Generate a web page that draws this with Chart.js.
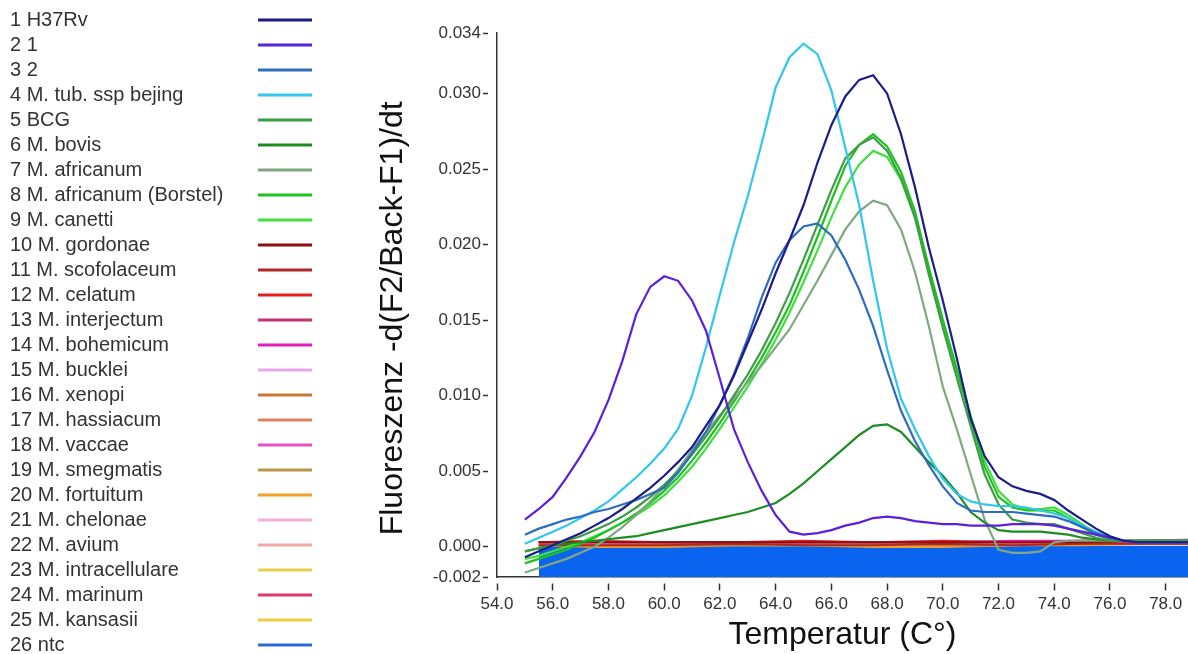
<!DOCTYPE html>
<html lang="de">
<head>
    <meta charset="UTF-8">
    <title>Schmelzkurven</title>
    <style>
        body { margin: 0; background: #fff; }
        canvas { display: block; }
    </style>
</head>
<body>
    <canvas id="meltChart" width="1188" height="654"></canvas>

    <script src="https://cdn.jsdelivr.net/npm/chart.js"></script>
    <script>
// temperature steps of the melting curves
const temps = [55.0, 55.5, 56.0, 56.5, 57.0, 57.5, 58.0, 58.5, 59.0, 59.5, 60.0, 60.5, 61.0, 61.5, 62.0, 62.5, 63.0, 63.5, 64.0, 64.5, 65.0, 65.5, 66.0, 66.5, 67.0, 67.5, 68.0, 68.5, 69.0, 69.5, 70.0, 70.5, 71.0, 71.5, 72.0, 72.5, 73.0, 73.5, 74.0, 74.5, 75.0, 75.5, 76.0, 76.5, 77.0, 77.5, 78.0, 78.5, 79.0];

const h37rv = [-0.0007, -0.0003, 0.0001, 0.0005, 0.0009, 0.0014, 0.0019, 0.0025, 0.0032, 0.0039, 0.0047, 0.0056, 0.0066, 0.0080, 0.0094, 0.0113, 0.0135, 0.0157, 0.0181, 0.0203, 0.0226, 0.0254, 0.0279, 0.0298, 0.0309, 0.0312, 0.0300, 0.0273, 0.0238, 0.0198, 0.0163, 0.0125, 0.0085, 0.0060, 0.0046, 0.0040, 0.0037, 0.0035, 0.0031, 0.0024, 0.0018, 0.0012, 0.0007, 0.0004, 0.0003, 0.0003, 0.0003, 0.0003, 0.0003];
const strain1 = [0.0018, 0.0025, 0.0033, 0.0046, 0.0060, 0.0076, 0.0097, 0.0123, 0.0154, 0.0172, 0.0179, 0.0176, 0.0163, 0.0143, 0.0111, 0.0078, 0.0056, 0.0037, 0.0021, 0.0010, 0.0008, 0.0009, 0.0011, 0.0014, 0.0016, 0.0019, 0.0020, 0.0019, 0.0017, 0.0016, 0.0015, 0.0015, 0.0014, 0.0014, 0.0014, 0.0015, 0.0015, 0.0015, 0.0014, 0.0012, 0.0010, 0.0008, 0.0006, 0.0004, 0.0003, 0.0003, 0.0003, 0.0003, 0.0003];
const strain2 = [0.0008, 0.0012, 0.0015, 0.0018, 0.0020, 0.0023, 0.0025, 0.0028, 0.0031, 0.0035, 0.0039, 0.0049, 0.0062, 0.0076, 0.0094, 0.0114, 0.0138, 0.0165, 0.0188, 0.0203, 0.0212, 0.0214, 0.0206, 0.0190, 0.0170, 0.0146, 0.0117, 0.0090, 0.0070, 0.0054, 0.0040, 0.0029, 0.0024, 0.0023, 0.0023, 0.0023, 0.0022, 0.0021, 0.0020, 0.0017, 0.0013, 0.0009, 0.0006, 0.0004, 0.0003, 0.0003, 0.0003, 0.0003, 0.0003];
const bejing = [0.0002, 0.0006, 0.0010, 0.0014, 0.0019, 0.0024, 0.0030, 0.0038, 0.0046, 0.0055, 0.0065, 0.0078, 0.0100, 0.0132, 0.0167, 0.0201, 0.0232, 0.0267, 0.0304, 0.0324, 0.0333, 0.0326, 0.0302, 0.0264, 0.0226, 0.0176, 0.0131, 0.0098, 0.0078, 0.0060, 0.0045, 0.0035, 0.0030, 0.0028, 0.0027, 0.0027, 0.0026, 0.0024, 0.0022, 0.0019, 0.0014, 0.0010, 0.0006, 0.0004, 0.0003, 0.0003, 0.0003, 0.0003, 0.0003];
const bcg = [-0.0003, -0.0001, 0.0001, 0.0004, 0.0007, 0.0011, 0.0015, 0.0020, 0.0026, 0.0033, 0.0041, 0.0050, 0.0061, 0.0073, 0.0086, 0.0100, 0.0114, 0.0130, 0.0148, 0.0168, 0.0190, 0.0213, 0.0236, 0.0257, 0.0266, 0.0271, 0.0262, 0.0244, 0.0218, 0.0180, 0.0145, 0.0112, 0.0080, 0.0048, 0.0028, 0.0018, 0.0016, 0.0015, 0.0015, 0.0012, 0.0009, 0.0006, 0.0004, 0.0004, 0.0004, 0.0004, 0.0004, 0.0004, 0.0004];
const bovis = [-0.0003, -0.0001, 0.0001, 0.0002, 0.0003, 0.0004, 0.0005, 0.0006, 0.0007, 0.0009, 0.0011, 0.0013, 0.0015, 0.0017, 0.0019, 0.0021, 0.0023, 0.0026, 0.0029, 0.0035, 0.0042, 0.0050, 0.0058, 0.0066, 0.0074, 0.0080, 0.0081, 0.0076, 0.0066, 0.0056, 0.0047, 0.0036, 0.0023, 0.0016, 0.0011, 0.0010, 0.0010, 0.0010, 0.0009, 0.0008, 0.0006, 0.0005, 0.0004, 0.0004, 0.0004, 0.0004, 0.0004, 0.0004, 0.0004];
const africanum = [-0.0017, -0.0014, -0.0011, -0.0008, -0.0004, 0.0000, 0.0006, 0.0013, 0.0021, 0.0030, 0.0040, 0.0051, 0.0064, 0.0076, 0.0087, 0.0098, 0.0109, 0.0120, 0.0132, 0.0144, 0.0160, 0.0176, 0.0193, 0.0210, 0.0222, 0.0229, 0.0226, 0.0210, 0.0182, 0.0146, 0.0106, 0.0078, 0.0048, 0.0018, -0.0002, -0.0004, -0.0004, -0.0003, 0.0003, 0.0004, 0.0004, 0.0004, 0.0004, 0.0004, 0.0004, 0.0004, 0.0004, 0.0004, 0.0004];
const africanumBorstel = [-0.0011, -0.0008, -0.0005, -0.0002, 0.0002, 0.0006, 0.0011, 0.0016, 0.0022, 0.0029, 0.0037, 0.0046, 0.0057, 0.0069, 0.0082, 0.0096, 0.0110, 0.0125, 0.0142, 0.0160, 0.0182, 0.0205, 0.0229, 0.0252, 0.0266, 0.0273, 0.0265, 0.0248, 0.0222, 0.0185, 0.0150, 0.0117, 0.0085, 0.0053, 0.0033, 0.0026, 0.0024, 0.0024, 0.0024, 0.0019, 0.0013, 0.0008, 0.0005, 0.0004, 0.0004, 0.0004, 0.0004, 0.0004, 0.0004];
const canetti = [-0.0008, -0.0006, -0.0003, 0.0000, 0.0003, 0.0007, 0.0011, 0.0016, 0.0021, 0.0027, 0.0034, 0.0043, 0.0053, 0.0065, 0.0078, 0.0092, 0.0106, 0.0121, 0.0137, 0.0155, 0.0175, 0.0196, 0.0218, 0.0238, 0.0253, 0.0262, 0.0258, 0.0243, 0.0218, 0.0183, 0.0150, 0.0118, 0.0087, 0.0057, 0.0037, 0.0028, 0.0025, 0.0025, 0.0026, 0.0021, 0.0015, 0.0009, 0.0005, 0.0004, 0.0004, 0.0004, 0.0004, 0.0004, 0.0004];

// non-tuberculous strains and ntc stay flat, read at fewer steps
const flatTemps = [55.5, 57.5, 60.0, 62.5, 65.0, 67.5, 70.0, 72.5, 75.0, 77.5, 79.0];
const gordonae = [0.0003, 0.0003, 0.0003, 0.0003, 0.0003, 0.0003, 0.0003, 0.0003, 0.0003, 0.0004, 0.0004];
const scofolaceum = [0.0001, 0.0001, 0.0001, 0.0002, 0.0001, 0.0001, 0.0002, 0.0001, 0.0002, 0.0002, 0.0002];
const celatum = [0.0003, 0.0004, 0.0003, 0.0003, 0.0004, 0.0003, 0.0004, 0.0003, 0.0003, 0.0004, 0.0004];
const interjectum = [0.0003, 0.0003, 0.0003, 0.0003, 0.0003, 0.0003, 0.0003, 0.0003, 0.0004, 0.0004, 0.0004];
const bohemicum = [0.0003, 0.0003, 0.0003, 0.0003, 0.0003, 0.0003, 0.0003, 0.0004, 0.0004, 0.0004, 0.0004];
const bucklei = [0.0003, 0.0003, 0.0003, 0.0003, 0.0003, 0.0003, 0.0003, 0.0003, 0.0003, 0.0004, 0.0005];
const xenopi = [0.0001, 0.0001, 0.0001, 0.0001, 0.0002, 0.0002, 0.0001, 0.0001, 0.0002, 0.0002, 0.0002];
const hassiacum = [0.0002, 0.0001, 0.0002, 0.0002, 0.0002, 0.0002, 0.0002, 0.0002, 0.0002, 0.0002, 0.0002];
const vaccae = [0.0003, 0.0003, 0.0003, 0.0003, 0.0003, 0.0003, 0.0003, 0.0003, 0.0004, 0.0004, 0.0004];
const smegmatis = [0.0001, 0.0001, 0.0002, 0.0002, 0.0002, 0.0001, 0.0002, 0.0002, 0.0002, 0.0002, 0.0002];
const fortuitum = [0.0001, 0.0000, 0.0000, 0.0001, 0.0001, 0.0000, 0.0000, 0.0001, 0.0001, 0.0002, 0.0002];
const chelonae = [0.0003, 0.0003, 0.0003, 0.0003, 0.0003, 0.0003, 0.0003, 0.0003, 0.0003, 0.0004, 0.0004];
const avium = [0.0002, 0.0002, 0.0002, 0.0002, 0.0002, 0.0002, 0.0002, 0.0002, 0.0003, 0.0003, 0.0003];
const intracellulare = [0.0001, 0.0001, 0.0001, 0.0002, 0.0002, 0.0002, 0.0001, 0.0001, 0.0002, 0.0002, 0.0002];
const marinum = [0.0003, 0.0003, 0.0003, 0.0003, 0.0003, 0.0003, 0.0003, 0.0003, 0.0003, 0.0004, 0.0004];
const kansasii = [0.0001, 0.0001, 0.0001, 0.0001, 0.0001, 0.0001, 0.0001, 0.0001, 0.0002, 0.0002, 0.0002];
const ntc = [0.0000, 0.0000, 0.0000, 0.0000, 0.0000, 0.0000, 0.0000, 0.0000, 0.0000, 0.0000, 0.0000];

const strainLabels = ['1 H37Rv', '2 1', '3 2', '4 M. tub. ssp bejing', '5 BCG', '6 M. bovis', '7 M. africanum', '8 M. africanum (Borstel)', '9 M. canetti', '10 M. gordonae', '11 M. scofolaceum', '12 M. celatum', '13 M. interjectum', '14 M. bohemicum', '15 M. bucklei', '16 M. xenopi', '17 M. hassiacum', '18 M. vaccae', '19 M. smegmatis', '20 M. fortuitum', '21 M. chelonae', '22 M. avium', '23 M. intracellulare', '24 M. marinum', '25 M. kansasii', '26 ntc'];
const strainColors = ['#1c1c8a', '#5a20dc', '#2e6cbe', '#30c6ee', '#3e9c46', '#1e8c22', '#7ea882', '#1ec21e', '#40e040', '#8c1010', '#b02828', '#e81c1c', '#c83070', '#e81cc0', '#e8a8f0', '#c87830', '#e08060', '#e850c8', '#b89848', '#f0a028', '#f0b0d8', '#f0a8a8', '#e8d048', '#e03868', '#ecd040', '#2a6ad8'];
const ntcFill = '#0b64ef';

const xTicks = [54, 56, 58, 60, 62, 64, 66, 68, 70, 72, 74, 76, 78];
const yTicks = [-0.002, 0.000, 0.005, 0.010, 0.015, 0.020, 0.025, 0.030, 0.034];

const curves = [h37rv, strain1, strain2, bejing, bcg, bovis, africanum, africanumBorstel, canetti,
    gordonae, scofolaceum, celatum, interjectum, bohemicum, bucklei, xenopi, hassiacum, vaccae,
    smegmatis, fortuitum, chelonae, avium, intracellulare, marinum, kansasii, ntc];

const datasets = curves.map((values, i) => {
    const xs = values.length === temps.length ? temps : flatTemps;
    const isNtc = i === curves.length - 1;
    return {
        label: strainLabels[i],
        data: values.map((v, k) => ({ x: xs[k], y: v })),
        borderColor: isNtc ? ntcFill : strainColors[i],
        backgroundColor: isNtc ? ntcFill : 'transparent',
        fill: isNtc ? 'start' : false,
        borderWidth: 2.2,
        pointRadius: 0,
        tension: 0
    };
});

// legend on the left: label text, then a short line sample
const sideLegend = {
    id: 'sideLegend',
    afterDraw(chart) {
        const ctx = chart.ctx;
        ctx.save();
        ctx.font = '20px "Liberation Sans", Arial, sans-serif';
        ctx.fillStyle = '#333';
        ctx.textBaseline = 'middle';
        ctx.lineWidth = 3;
        strainLabels.forEach((label, i) => {
            const y = 20 + i * 25;
            ctx.fillText(label, 10, y);
            ctx.strokeStyle = strainColors[i];
            ctx.beginPath();
            ctx.moveTo(258, y);
            ctx.lineTo(312, y);
            ctx.stroke();
        });
        ctx.restore();
    }
};

Chart.defaults.font.family = '"Liberation Sans", Arial, sans-serif';
Chart.defaults.color = '#333';

new Chart(document.getElementById('meltChart'), {
    type: 'line',
    data: { datasets },
    plugins: [sideLegend],
    options: {
        responsive: false,
        animation: false,
        devicePixelRatio: 1,
        layout: { padding: { left: 370, top: 33, right: 0, bottom: 0 } },
        plugins: {
            legend: { display: false },
            tooltip: { enabled: false }
        },
        scales: {
            x: {
                type: 'linear',
                min: 54,
                max: 78.8,
                afterBuildTicks: scale => { scale.ticks = xTicks.map(v => ({ value: v })); },
                afterFit: scale => { scale.height = 77; },
                ticks: {
                    autoSkip: false,
                    maxRotation: 0,
                    padding: 3,
                    font: { size: 17 },
                    callback: v => v.toFixed(1)
                },
                grid: {
                    drawOnChartArea: false,
                    tickLength: 14,
                    tickColor: '#333',
                    tickWidth: 1.5,
                    tickBorderDash: [0, 6, 7, 40]
                },
                border: { color: '#333', width: 1.5 },
                title: {
                    display: true,
                    text: 'Temperatur (C°)',
                    font: { size: 32 },
                    color: '#111',
                    padding: { top: 0, bottom: 0 }
                }
            },
            y: {
                min: -0.002,
                max: 0.034,
                afterBuildTicks: scale => { scale.ticks = yTicks.map(v => ({ value: v })); },
                afterFit: scale => { scale.width = 127; },
                ticks: {
                    padding: 2,
                    font: { size: 17 },
                    callback: v => v.toFixed(3)
                },
                grid: {
                    drawOnChartArea: false,
                    tickLength: 14,
                    tickColor: '#333',
                    tickWidth: 1.5,
                    tickBorderDash: [5, 40]
                },
                border: { color: '#333', width: 1.5 },
                title: {
                    display: true,
                    text: 'Fluoreszenz -d(F2/Back-F1)/dt   ',
                    font: { size: 32 },
                    color: '#111',
                    padding: { top: 4, bottom: 0 }
                }
            }
        }
    }
});
    </script>
</body>
</html>
